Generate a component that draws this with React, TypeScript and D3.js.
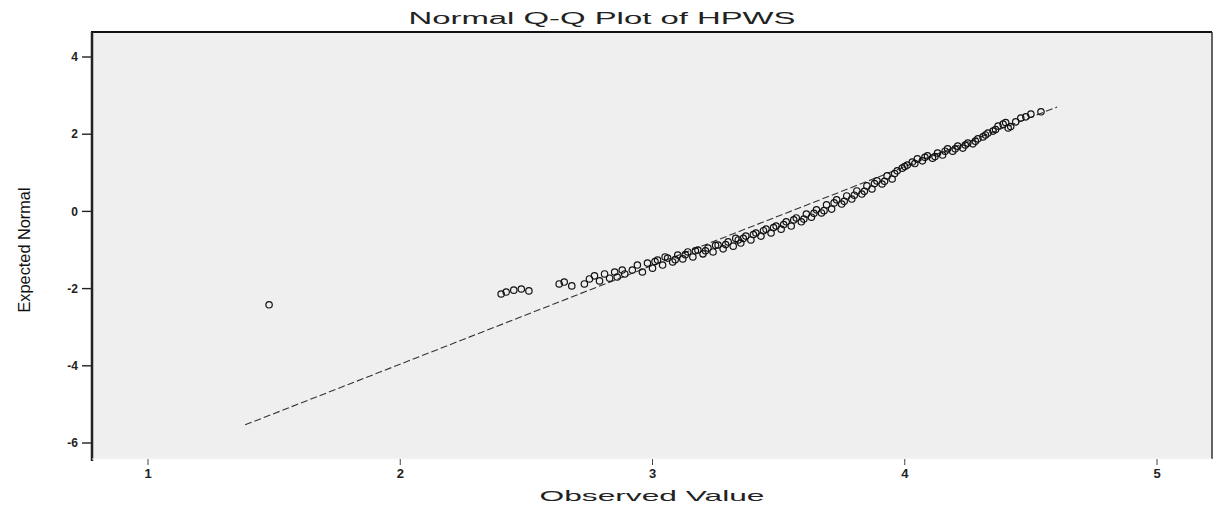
import React from "react";
import * as d3 from "d3";

const chartTitle = "Normal Q-Q Plot of HPWS";
const xTitle = "Observed Value";
const yTitle = "Expected Normal";
const xTicks = [1, 2, 3, 4, 5];
const yTicks = [4, 2, 0, -2, -4, -6];

// reference line endpoints [observed, expected]
const refStart = [1.385, -5.53];
const refEnd = [4.604, 2.705];

const observed = [
  1.48,
  2.40, 2.42, 2.45, 2.48, 2.51,
  2.63, 2.65, 2.68,
  2.73, 2.75, 2.77, 2.79, 2.81, 2.83, 2.85, 2.86, 2.88, 2.89,
  2.92, 2.94, 2.96, 2.98, 3.00, 3.02, 3.04, 3.06, 3.08, 3.10,
  3.12, 3.14, 3.16, 3.18, 3.20, 3.22, 3.24, 3.26, 3.28, 3.30,
  3.32, 3.34, 3.35, 3.37, 3.39, 3.41, 3.43, 3.45, 3.47, 3.49,
  3.51, 3.53, 3.55, 3.57, 3.59, 3.61, 3.63, 3.65, 3.67, 3.69,
  3.71, 3.73, 3.75, 3.77, 3.79, 3.81, 3.83, 3.85, 3.87, 3.89,
  3.91, 3.93, 3.95, 3.97, 3.99, 4.01, 4.03, 4.05, 4.07, 4.09,
  4.11, 4.13, 4.15, 4.17, 4.19, 4.21, 4.23, 4.25, 4.27, 4.29,
  4.31, 4.33, 4.35, 4.37, 4.39, 4.41, 4.44, 4.46, 4.50, 4.54,
  3.01, 3.05, 3.09, 3.13, 3.17, 3.21, 3.25, 3.29, 3.33, 3.36,
  3.40, 3.44, 3.48, 3.52, 3.56, 3.60, 3.64, 3.68, 3.72, 3.76,
  3.80, 3.84, 3.88, 3.92, 3.96, 4.00, 4.04, 4.08, 4.12, 4.16,
  4.20, 4.24, 4.28, 4.32, 4.36, 4.40, 4.42, 4.48,
];
const expected = [
  -2.42,
  -2.14, -2.09, -2.04, -2.01, -2.06,
  -1.88, -1.83, -1.93,
  -1.88, -1.75, -1.67, -1.80, -1.62, -1.73, -1.57, -1.70, -1.52, -1.62,
  -1.52, -1.39, -1.57, -1.34, -1.47, -1.26, -1.39, -1.21, -1.31, -1.13,
  -1.23, -1.05, -1.18, -1.00, -1.10, -0.95, -1.05, -0.87, -0.97, -0.79,
  -0.90, -0.74, -0.82, -0.64, -0.74, -0.56, -0.64, -0.46, -0.56, -0.38,
  -0.46, -0.27, -0.38, -0.17, -0.27, -0.07, -0.15, 0.04, -0.04, 0.17,
  0.06, 0.30, 0.19, 0.40, 0.32, 0.53, 0.45, 0.66, 0.58, 0.79,
  0.71, 0.92, 0.84, 1.05, 1.12, 1.20, 1.28, 1.36, 1.31, 1.44,
  1.38, 1.51, 1.46, 1.62, 1.56, 1.69, 1.64, 1.77, 1.75, 1.88,
  1.93, 2.03, 2.08, 2.21, 2.26, 2.16, 2.32, 2.42, 2.52, 2.58,
  -1.30, -1.18, -1.25, -1.12, -1.02, -1.02, -0.88, -0.86, -0.70, -0.70,
  -0.60, -0.50, -0.42, -0.34, -0.22, -0.20, -0.05, 0.02, 0.22, 0.26,
  0.42, 0.52, 0.72, 0.78, 0.98, 1.16, 1.24, 1.40, 1.42, 1.56,
  1.62, 1.72, 1.82, 1.98, 2.12, 2.30, 2.20, 2.45,
];

const W = 1216;
const H = 514;
const plot = { left: 92, right: 1212, top: 32, bottom: 459 };

export default function App() {
  const x = d3.scaleLinear().domain([1, 5]).range([148, 1157]);
  const y = d3.scaleLinear().domain([-6, 4]).range([443, 57]);
  const pts = observed.map((v, i) => [v, expected[i]]);
  const line = d3.line<number[]>().x((d) => x(d[0])).y((d) => y(d[1]));
  const font = "Arial, 'Liberation Sans', sans-serif";

  return (
    <svg
      width={W}
      height={H}
      style={{ position: "absolute", left: 0, top: 0, display: "block", background: "#fff" }}
      fontFamily={font}
    >
      <rect
        x={plot.left}
        y={plot.top}
        width={plot.right - plot.left}
        height={plot.bottom - plot.top}
        fill="#efefef"
      />
      {/* frame */}
      <line x1={plot.left - 1} x2={plot.right} y1={plot.top} y2={plot.top} stroke="#111" strokeWidth={2.2} />
      <line x1={plot.left} x2={plot.left} y1={plot.top} y2={plot.bottom + 2} stroke="#222" strokeWidth={2.5} />
      <line x1={plot.right} x2={plot.right} y1={plot.top} y2={plot.bottom} stroke="#333" strokeWidth={1.5} />
      <line x1={plot.left} x2={plot.right} y1={plot.bottom} y2={plot.bottom} stroke="#f8f8f8" strokeWidth={1} />

      {/* y axis ticks */}
      {yTicks.map((t) => (
        <g key={t}>
          <line x1={plot.left - 10} x2={plot.left} y1={y(t)} y2={y(t)} stroke="#222" strokeWidth={1.4} />
          <text x={plot.left - 14} y={y(t)} dy="0.35em" textAnchor="end" fontSize={12} fontWeight="bold" fill="#222">
            {t}
          </text>
        </g>
      ))}
      {/* x axis ticks */}
      {xTicks.map((t) => (
        <g key={t}>
          <line x1={x(t)} x2={x(t)} y1={plot.bottom} y2={plot.bottom + 6} stroke="#444" strokeWidth={1} />
          <text x={x(t)} y={plot.bottom + 19} textAnchor="middle" fontSize={13} fontWeight="bold" fill="#222">
            {t}
          </text>
        </g>
      ))}

      {/* reference line */}
      <path
        d={line([refStart, refEnd]) || ""}
        fill="none"
        stroke="#333"
        strokeWidth={1.1}
        strokeDasharray="7,3"
      />

      {/* points */}
      {pts.map((p, i) => (
        <circle
          key={i}
          cx={x(p[0])}
          cy={y(p[1])}
          r={3.2}
          fill="none"
          stroke="#111"
          strokeWidth={1.2}
        />
      ))}

      {/* titles */}
      <text
        x={602}
        y={24}
        textAnchor="middle"
        fontSize={16}
        fill="#222"
        textLength={387}
        lengthAdjust="spacingAndGlyphs"
      >
        {chartTitle}
      </text>
      <text
        x={652}
        y={501}
        textAnchor="middle"
        fontSize={15}
        fill="#222"
        textLength={225}
        lengthAdjust="spacingAndGlyphs"
      >
        {xTitle}
      </text>
      <text
        transform={`translate(30,250) rotate(-90)`}
        textAnchor="middle"
        fontSize={17}
        fill="#111"
        textLength={125}
        lengthAdjust="spacingAndGlyphs"
      >
        {yTitle}
      </text>
    </svg>
  );
}
